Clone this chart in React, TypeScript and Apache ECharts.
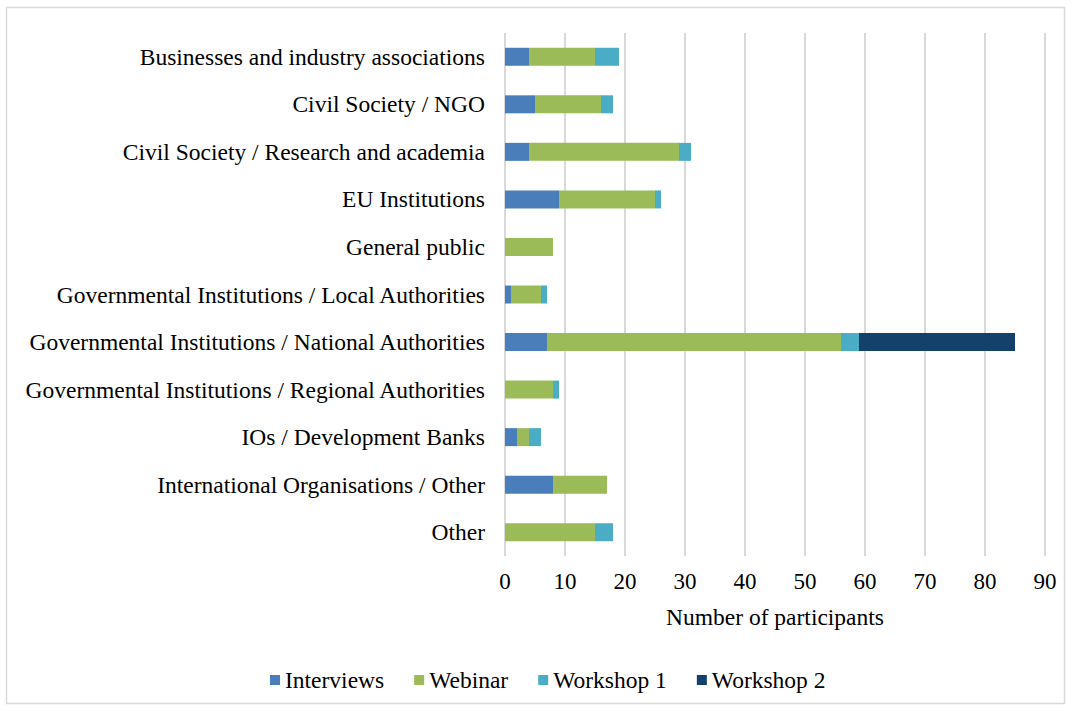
import React, { useEffect, useRef } from "react";
import * as echarts from "echarts";

const categories = [
  "Businesses and industry associations",
  "Civil Society / NGO",
  "Civil Society / Research and academia",
  "EU Institutions",
  "General public",
  "Governmental Institutions / Local Authorities",
  "Governmental Institutions / National Authorities",
  "Governmental Institutions / Regional Authorities",
  "IOs / Development Banks",
  "International Organisations / Other",
  "Other",
];

const interviews = [4, 5, 4, 9, 0, 1, 7, 0, 2, 8, 0];
const webinar = [11, 11, 25, 16, 8, 5, 49, 8, 2, 9, 15];
const workshop1 = [4, 2, 2, 1, 0, 1, 3, 1, 2, 0, 3];
const workshop2 = [0, 0, 0, 0, 0, 0, 26, 0, 0, 0, 0];

const seriesNames = ["Interviews", "Webinar", "Workshop 1", "Workshop 2"];
const seriesColors = ["#4a7ebb", "#9bbb59", "#4bacc6", "#13416c"];
const seriesData = [interviews, webinar, workshop1, workshop2];

const xTicksMax = 90;
const xInterval = 10;

const FONT = "'Liberation Serif', 'Times New Roman', serif";

export default function App() {
  const ref = useRef<HTMLDivElement>(null);
  useEffect(() => {
    if (!ref.current) return;
    const chart = echarts.init(ref.current, undefined, { renderer: "svg" });
    chart.setOption({
      animation: false,
      backgroundColor: "#ffffff",
      textStyle: { fontFamily: FONT, color: "#000" },
      graphic: [
        {
          type: "rect",
          shape: { x: 6.5, y: 7.5, width: 1058, height: 696 },
          style: { fill: "none", stroke: "#d9d9d9", lineWidth: 1.5 },
          silent: true,
        },
      ],
      grid: { left: 505, right: 27, top: 33, bottom: 711 - 556, containLabel: false },
      legend: {
        data: seriesNames,
        left: 265,
        top: 663,
        icon: "rect",
        itemWidth: 10,
        itemHeight: 10,
        itemGap: 30,
        textStyle: { fontFamily: FONT, fontSize: 23.5, color: "#000", padding: [0, 0, 0, 0] },
      },
      xAxis: {
        type: "value",
        min: 0,
        max: xTicksMax,
        interval: xInterval,
        name: "Number of participants",
        nameLocation: "middle",
        nameGap: 49,
        nameTextStyle: { fontFamily: FONT, fontSize: 23.5, color: "#000" },
        axisLine: { show: false },
        axisTick: { show: false },
        axisLabel: { fontFamily: FONT, fontSize: 23, color: "#000", margin: 14 },
        splitLine: { show: true, lineStyle: { color: "#d9d9d9", width: 2 } },
      },
      yAxis: {
        type: "category",
        data: categories,
        inverse: true,
        axisLine: { show: false },
        axisTick: { show: false },
        axisLabel: { fontFamily: FONT, fontSize: 23.5, color: "#000", margin: 20 },
        splitLine: { show: false },
      },
      series: seriesNames.map((name, i) => ({
        name,
        type: "bar",
        stack: "total",
        barWidth: 18,
        data: seriesData[i],
        itemStyle: { color: seriesColors[i] },
      })),
    });
    return () => chart.dispose();
  }, []);
  return (
    <div
      ref={ref}
      style={{ position: "fixed", left: 0, top: 0, width: 1072, height: 711 }}
    />
  );
}
